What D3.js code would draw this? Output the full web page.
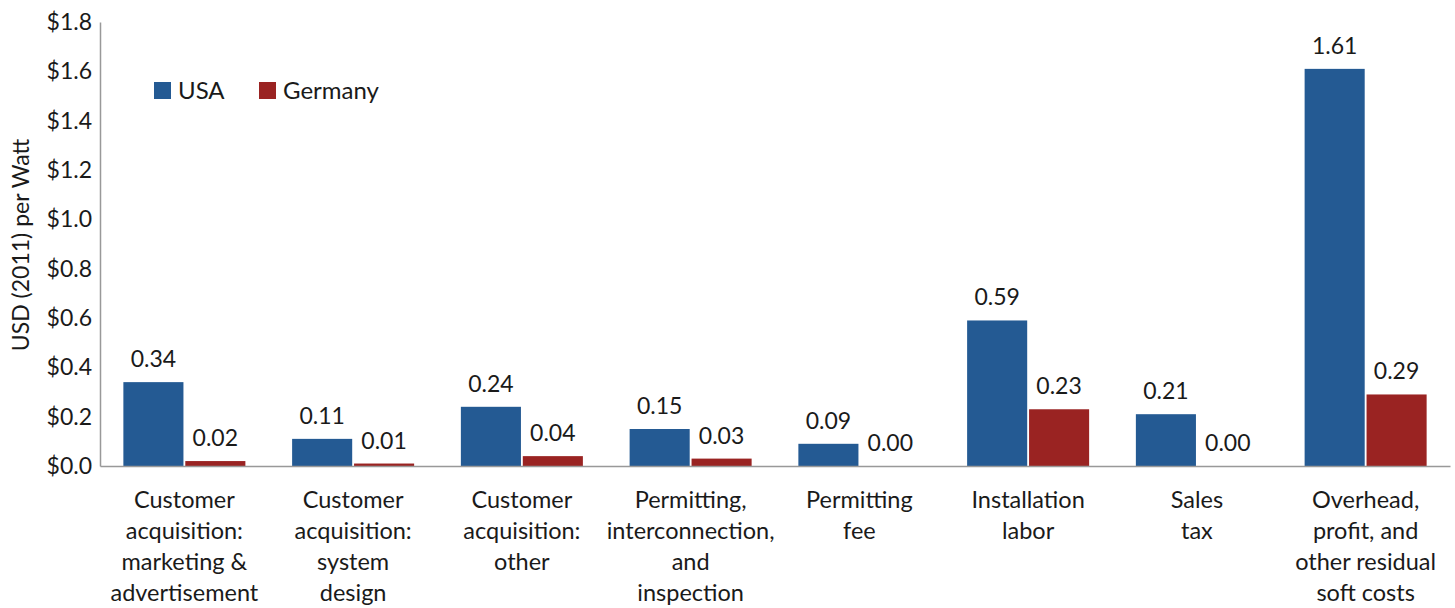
<!DOCTYPE html>
<html>
<head>
<meta charset="utf-8">
<script src="https://cdn.jsdelivr.net/npm/d3@7"></script>
<style>
  html, body { margin: 0; padding: 0; background: #fff; }
  svg { display: block; font-family: "Lato", "Open Sans", sans-serif; }
</style>
</head>
<body>
<svg id="chart" width="1455" height="608"></svg>
<script>
// Soft cost categories (line-broken labels)
const categories = [
  ["Customer", "acquisition:", "marketing &", "advertisement"],
  ["Customer", "acquisition:", "system", "design"],
  ["Customer", "acquisition:", "other"],
  ["Permitting,", "interconnection,", "and", "inspection"],
  ["Permitting", "fee"],
  ["Installation", "labor"],
  ["Sales", "tax"],
  ["Overhead,", "profit, and", "other residual", "soft costs"]
];
const seriesNames = ["USA", "Germany"];
const usaValues = [0.34, 0.11, 0.24, 0.15, 0.09, 0.59, 0.21, 1.61];
const germanyValues = [0.02, 0.01, 0.04, 0.03, 0.00, 0.23, 0.00, 0.29];
const yTicks = [0, 0.2, 0.4, 0.6, 0.8, 1.0, 1.2, 1.4, 1.6, 1.8];
const colors = { USA: "#245a93", Germany: "#9a2322" };

const svg = d3.select("#chart");
const plotLeft = 100, plotRight = 1450, plotTop = 22, plotBottom = 466;
const textColor = "#1a1a1a";

const x0 = d3.scaleBand()
  .domain(d3.range(categories.length))
  .range([plotLeft, plotRight])
  .paddingInner(0.277)
  .paddingOuter(0.1385);

const x1 = d3.scaleBand()
  .domain(seriesNames)
  .range([0, x0.bandwidth()])
  .paddingInner(0.03);

const y = d3.scaleLinear().domain([0, 1.8]).range([plotBottom, plotTop]);

const rows = categories.map((c, i) => ({
  i, label: c,
  values: [
    { key: "USA", value: usaValues[i] },
    { key: "Germany", value: germanyValues[i] }
  ]
}));

// Bars
const groups = svg.append("g").selectAll("g")
  .data(rows).join("g")
  .attr("transform", d => `translate(${x0(d.i)},0)`);

groups.selectAll("rect")
  .data(d => d.values).join("rect")
  .attr("x", d => x1(d.key))
  .attr("y", d => y(d.value))
  .attr("width", x1.bandwidth())
  .attr("height", d => y(0) - y(d.value))
  .attr("fill", d => colors[d.key]);

// Value labels
groups.selectAll("text.val")
  .data(d => d.values).join("text")
  .attr("class", "val")
  .attr("x", d => x1(d.key) + x1.bandwidth() / 2)
  .attr("y", d => y(d.value) - 15)
  .attr("text-anchor", "middle")
  .attr("font-size", 23)
  .attr("fill", textColor)
  .text(d => d.value.toFixed(2));

// Y axis (line + labels, no tick marks)
const yAxis = d3.axisLeft(y)
  .tickValues(yTicks)
  .tickSize(0)
  .tickPadding(8)
  .tickFormat(d => "$" + d.toFixed(1));
const ya = svg.append("g").attr("transform", `translate(${plotLeft},0)`).call(yAxis);
ya.select(".domain").attr("stroke", "#999").attr("stroke-width", 1.5);
ya.selectAll("text").attr("font-size", 23).attr("fill", textColor)
  .attr("font-family", "Lato, 'Open Sans', sans-serif");

// X axis baseline
const xAxis = d3.axisBottom(x0).tickSize(0).tickFormat("");
const xa = svg.append("g").attr("transform", `translate(0,${plotBottom})`).call(xAxis);
xa.select(".domain").attr("stroke", "#999").attr("stroke-width", 1.5);

// Category labels
const catLabels = svg.append("g").selectAll("text")
  .data(rows).join("text")
  .attr("text-anchor", "middle")
  .attr("font-size", 23.5)
  .attr("fill", textColor);
catLabels.selectAll("tspan")
  .data(d => d.label.map(t => ({ t, cx: x0(d.i) + x0.bandwidth() / 2 })))
  .join("tspan")
  .attr("x", d => d.cx)
  .attr("y", (d, k) => 508 + k * 31)
  .text(d => d.t);

// Y axis title
svg.append("text")
  .attr("transform", "translate(29,245) rotate(-90)")
  .attr("text-anchor", "middle")
  .attr("font-size", 23)
  .attr("fill", textColor)
  .text("USD (2011) per Watt");

// Legend
const legendPos = { USA: 154, Germany: 259 };
const legend = svg.append("g").selectAll("g")
  .data(seriesNames).join("g")
  .attr("transform", d => `translate(${legendPos[d]},82)`);
legend.append("rect").attr("width", 17).attr("height", 17).attr("fill", d => colors[d]);
legend.append("text").attr("x", 24).attr("y", 17)
  .attr("font-size", 24).attr("fill", textColor).text(d => d);
</script>
</body>
</html>
